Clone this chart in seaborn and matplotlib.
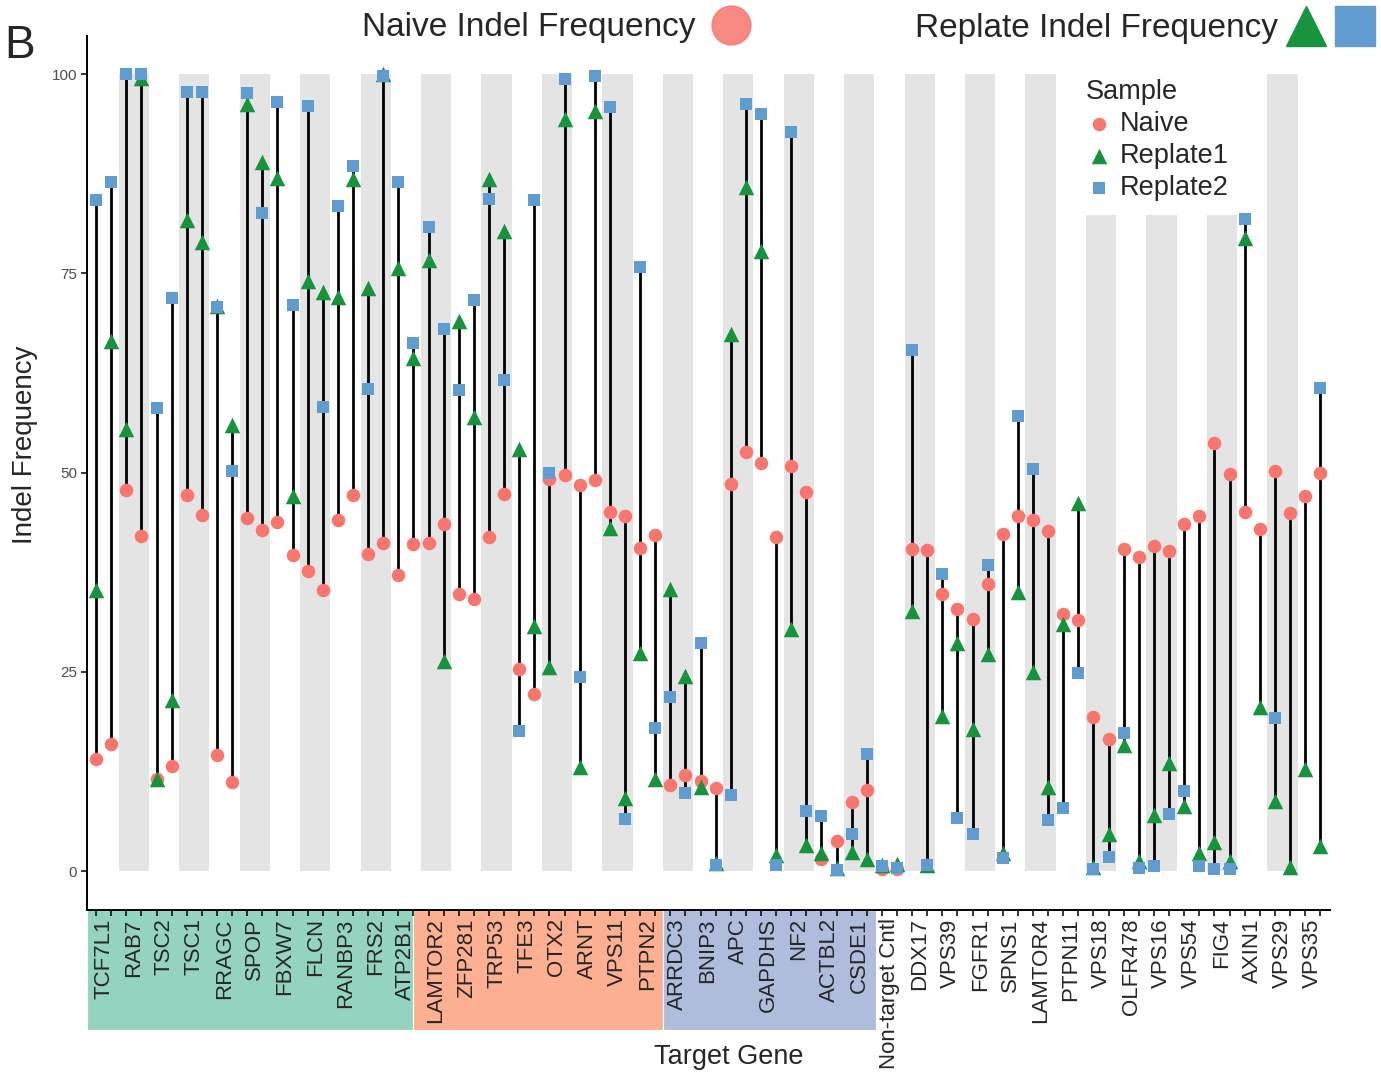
import numpy as np
import pandas as pd
import matplotlib
matplotlib.use("Agg")
import matplotlib.pyplot as plt
import matplotlib.transforms as mtransforms
from matplotlib.patches import Rectangle
from matplotlib.lines import Line2D
import seaborn as sns

# ---------------- data ----------------
genes = ["TCF7L1", "RAB7", "TSC2", "TSC1", "RRAGC", "SPOP", "FBXW7", "FLCN",
         "RANBP3", "FRS2", "ATP2B1", "LAMTOR2", "ZFP281", "TRP53", "TFE3", "OTX2",
         "ARNT", "VPS11", "PTPN2", "ARRDC3", "BNIP3", "APC", "GAPDHS", "NF2",
         "ACTBL2", "CSDE1", "Non-target Cntl", "DDX17", "VPS39", "FGFR1", "SPNS1",
         "LAMTOR4", "PTPN11", "VPS18", "OLFR478", "VPS16", "VPS54", "FIG4",
         "AXIN1", "VPS29", "VPS35"]

# two guides per gene, in gene order
naive = [14.0, 16.0, 47.8, 42.0, 11.5, 13.2, 47.2, 44.7, 14.6, 11.2,
         44.3, 42.8, 43.8, 39.6, 37.6, 35.2, 44.0, 47.2, 39.8, 41.2,
         37.2, 41.0, 41.2, 43.5, 34.8, 34.1, 41.9, 47.3, 25.3, 22.2,
         49.2, 49.7, 48.4, 49.0, 45.0, 44.5, 40.5, 42.1, 10.8, 12.0,
         11.3, 10.4, 48.6, 52.6, 51.2, 41.9, 50.8, 47.5, 1.5, 3.8,
         8.6, 10.2, 0.3, 0.3, 40.4, 40.3, 34.7, 32.9, 31.6, 36.0,
         42.3, 44.6, 44.0, 42.7, 32.2, 31.5, 19.3, 16.6, 40.4, 39.4,
         40.8, 40.2, 43.6, 44.6, 53.7, 49.8, 45.1, 42.9, 50.2, 44.9,
         47.1, 49.9]
replate1 = [35.3, 66.5, 55.5, 99.5, 11.5, 21.5, 81.7, 78.9, 70.9, 56.0,
            96.3, 89.0, 87.0, 47.0, 74.0, 72.6, 72.0, 86.8, 73.2, 100.0,
            75.7, 64.4, 76.7, 26.3, 69.0, 57.0, 86.8, 80.3, 53.0, 30.8,
            25.6, 94.4, 13.0, 95.4, 43.0, 9.2, 27.4, 11.6, 35.4, 24.5,
            10.5, 1.0, 67.4, 85.8, 77.8, 2.0, 30.4, 3.3, 2.3, 0.4,
            2.4, 1.5, 0.8, 0.9, 32.6, 0.8, 19.5, 28.6, 17.8, 27.2,
            2.2, 35.0, 25.0, 10.5, 31.0, 46.2, 0.5, 4.7, 15.8, 1.2,
            7.0, 13.5, 8.2, 2.2, 3.7, 1.3, 79.4, 20.6, 8.8, 0.5,
            12.8, 3.1]
replate2 = [84.2, 86.5, 100.0, 100.0, 58.1, 71.9, 97.7, 97.7, 70.8, 50.2,
            97.6, 82.5, 96.5, 71.0, 96.0, 58.2, 83.5, 88.4, 60.5, 99.7,
            86.4, 66.2, 80.8, 68.0, 60.4, 71.7, 84.3, 61.6, 17.6, 84.2,
            50.0, 99.4, 24.4, 99.8, 95.9, 6.5, 75.8, 18.0, 21.8, 9.8,
            28.6, 0.8, 9.6, 96.2, 95.0, 0.7, 92.7, 7.5, 6.9, 0.1,
            4.6, 14.7, 0.6, 0.4, 65.4, 0.7, 37.3, 6.6, 4.7, 38.4,
            1.6, 57.1, 50.5, 6.4, 7.9, 24.9, 0.2, 1.7, 17.3, 0.4,
            0.6, 7.2, 10.0, 0.6, 0.3, 0.2, 81.8, np.nan, 19.2, np.nan,
            np.nan, 60.6]

samples = ["Naive", "Replate1", "Replate2"]
yticks = [0, 25, 50, 75, 100]

# ---------------- styling ----------------
sns.set_style("ticks")
plt.rcParams["font.family"] = ["Liberation Sans", "DejaVu Sans"]

W, H = 1381, 1076
fig = plt.figure(figsize=(W / 100, H / 100), dpi=100)
ax = fig.add_axes([87 / W, 1 - 910 / H, (1330 - 87) / W, (910 - 36) / H])

n_guides = len(naive)
guide_pos = np.arange(n_guides)

df = pd.DataFrame({"guide": guide_pos, "Naive": naive,
                   "Replate1": replate1, "Replate2": replate2})
long = df.melt(id_vars="guide", var_name="Sample", value_name="value").dropna()

# alternating grey bands (odd genes)
band_genes = [g for g in range(len(genes)) if g % 2 == 1]
ax.bar([2 * g + 0.5 for g in band_genes], [100] * len(band_genes), width=2.0,
       bottom=0, color="#E4E4E4", linewidth=0, zorder=0.2)

# vertical connecting lines
vals = df[samples].to_numpy()
lo = np.nanmin(vals, axis=1)
hi = np.nanmax(vals, axis=1)
ax.vlines(df["guide"], lo, hi, colors="black", linewidth=2.0, zorder=1)

colors = {"Naive": "#F8766D", "Replate1": "#17923D", "Replate2": "#619CD0"}
markers = {"Naive": "o", "Replate1": "^", "Replate2": "s"}
sizes = {"Naive": 95, "Replate1": 125, "Replate2": 80}
for i, smp in enumerate(samples):
    sns.scatterplot(data=long[long["Sample"] == smp], x="guide", y="value",
                    marker=markers[smp], color=colors[smp], s=sizes[smp],
                    linewidth=0, ax=ax, label=smp, zorder=2 + i)

ax.set_xlim(-0.6, n_guides - 1 + 0.65)
ax.set_ylim(-4.89, 104.77)
ax.set_xlabel("")
ax.set_ylabel("")

ax.set_yticks(yticks)
ax.set_yticklabels([str(t) for t in yticks])
ax.tick_params(axis="y", length=4, width=1.1, color="black", labelsize=11,
               labelcolor="#4D4D4D", pad=3)

ax.set_xticks(guide_pos)
ax.set_xticklabels([])
ax.set_xticks([2 * g + 0.5 for g in range(len(genes))], minor=True)
ax.set_xticklabels(genes, minor=True, rotation=90)
ax.tick_params(axis="x", which="major", length=4, width=1.1, color="black")
ax.tick_params(axis="x", which="minor", length=0, pad=6, labelsize=16)

sns.despine(ax=ax)
for sp in ["left", "bottom"]:
    ax.spines[sp].set_linewidth(1.4)
    ax.spines[sp].set_color("black")

# coloured group boxes behind gene labels
group_edges = [(-0.6, 21.0), (21.0, 37.5), (37.5, 51.6)]
group_colors = ["#94D3C0", "#FDAF91", "#AFBCDB"]
trans = mtransforms.blended_transform_factory(ax.transData, ax.transAxes)
box_h = (1030 - 910) / (910 - 36)
for (x0, x1), c in zip(group_edges, group_colors):
    ax.add_patch(Rectangle((x0, -box_h), x1 - x0, box_h, transform=trans,
                           clip_on=False, facecolor=c, edgecolor="white",
                           linewidth=0.8, zorder=0.1))

# white background of the in-plot legend (covers the bands only)
ax.add_patch(Rectangle((1078 / W, 1 - 215 / H), 160 / W, 149 / H,
                       transform=fig.transFigure, facecolor="white",
                       edgecolor="none", zorder=0.3, clip_on=False))

# legend in plot
handles, labels = ax.get_legend_handles_labels()
leg = ax.legend(handles, labels, title="Sample", loc="upper left",
                bbox_to_anchor=(1069 / W, 1 - 62 / H),
                bbox_transform=fig.transFigure, frameon=False,
                fontsize=19.5, title_fontsize=19.5, alignment="left",
                borderpad=0.62, labelspacing=0.22, handletextpad=0.25,
                handlelength=1.0, borderaxespad=0)

# axis titles
fig.text(25 / W, 1 - 445 / H, "Indel Frequency", rotation=90, ha="center",
         va="center", fontsize=20)
fig.text(729 / W, 1 - 1057 / H, "Target Gene", ha="center", va="center",
         fontsize=19.5)

# panel letter and top key
fig.text(4 / W, 1 - 58 / H, "B", ha="left", va="baseline", fontsize=33)
fig.text(696 / W, 1 - 36 / H, "Naive Indel Frequency", ha="right",
         va="baseline", fontsize=24)
fig.text(1278 / W, 1 - 37 / H, "Replate Indel Frequency", ha="right",
         va="baseline", fontsize=24)
fig.add_artist(Line2D([731 / W], [1 - 25 / H], marker="o", markersize=28,
                      color=colors["Naive"], alpha=0.85, linestyle="none",
                      transform=fig.transFigure))
fig.add_artist(Line2D([1306 / W], [1 - 26 / H], marker="^", markersize=29,
                      color=colors["Replate1"], linestyle="none",
                      transform=fig.transFigure))
fig.add_artist(Line2D([1355 / W], [1 - 26 / H], marker="s", markersize=29,
                      color=colors["Replate2"], linestyle="none",
                      transform=fig.transFigure))

fig.savefig("out.png", dpi=100)
